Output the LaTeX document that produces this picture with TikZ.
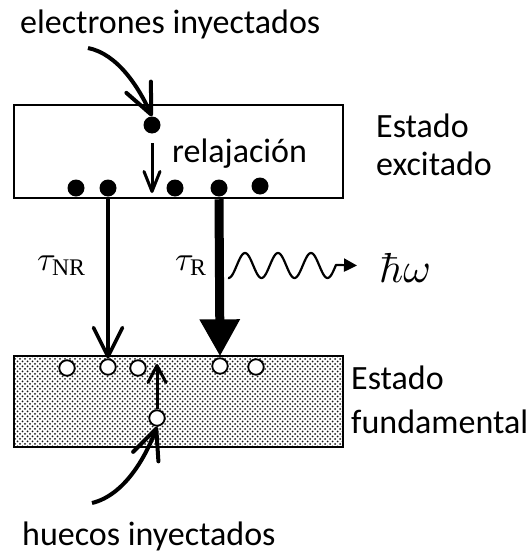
\documentclass[tikz,border=0pt]{standalone}
\usepackage[no-math]{fontspec}
\setmainfont{Carlito}
\newfontfamily\serif{Liberation Serif}
\usetikzlibrary{arrows.meta,patterns}
\pgfdeclarepatternformonly{fdots}{\pgfqpoint{-1pt}{-1pt}}{\pgfqpoint{4pt}{4pt}}{\pgfqpoint{5pt}{5pt}}{%
  \pgfpathcircle{\pgfqpoint{0pt}{0pt}}{1pt}%
  \pgfpathcircle{\pgfqpoint{2.5pt}{2.5pt}}{1pt}%
  \pgfusepath{fill}}
\begin{document}
\begin{tikzpicture}[x=1pt,y=-1pt,
  lab/.style={font=\fontsize{34}{40}\selectfont, inner sep=0pt, anchor=base west},
  mlab/.style={inner sep=0pt, anchor=base west},
  box/.style={draw, line width=2.5pt, inner sep=0pt, minimum width=329pt},
  elec/.style={circle, fill=black, inner sep=0pt, minimum size=17pt},
  hole/.style={circle, draw=black, fill=white, line width=1.8pt, inner sep=0pt, minimum size=15.5pt},
  inj/.style={line width=4pt, -{Straight Barb[length=30pt,width=27pt,round]}},
  nrarrow/.style={line width=3.6pt, -{Straight Barb[length=29pt,width=29pt,round]}},
  relarrow/.style={line width=3pt, -{Straight Barb[length=20pt,width=16pt,round]}},
  holearrow/.style={line width=3pt, -{Straight Barb[length=17pt,width=18pt,round]}},
  rarrow/.style={line width=9pt, -{Triangle[length=37pt,width=38pt]}},
  wave/.style={line width=2.2pt, line join=round, -{Triangle[length=13pt,width=13pt]}}
]
\useasboundingbox (0,0) rectangle (531,554);

% boxes
\node[box, minimum height=93pt] (exc) at (178.5,151.5) {};
\node[box, minimum height=91pt, pattern=fdots, pattern color=black!90] (gnd) at (178.5,401.5) {};

% labels
\node[lab] (tein) at (20,33) {electrones inyectados};
\node[lab] (trel) at (172,162) {relajación};
\node[lab] (tex1) at (376,137) {Estado};
\node[lab] (tex2) at (376,175) {excitado};
\node[lab] (tgd1) at (351,389) {Estado};
\node[lab] (tgd2) at (351,433) {fundamental};
\node[lab] (thin) at (22,545) {huecos inyectados};
\node[mlab] (tnr) at (37,270) {\scalebox{3.4}{$\tau_{\hbox{\fontsize{7}{8}\serif NR}}$}};
\node[mlab] (tr) at (175,270) {\scalebox{3.4}{$\tau_{\hbox{\fontsize{7}{8}\serif R}}$}};
\node[mlab] (hw) at (379,282) {\scalebox{4.2}{$\hbar\omega$}};

% electrons
\node[elec] (e0) at (152,125) {};
\node[elec] (e1) at (76,188) {};
\node[elec] (e2) at (108,188) {};
\node[elec] (e3) at (175,188) {};
\node[elec] (e4) at (219,188) {};
\node[elec] (e5) at (260,186) {};

% holes
\node[hole] (h1) at (67,368) {};
\node[hole] (h2) at (108,367) {};
\node[hole] (h3) at (138,368) {};
\node[hole] (h4) at (220,366) {};
\node[hole] (h5) at (256,367) {};
\node[hole] (h6) at (157,418) {};

% coordinates
\coordinate (ein) at (88,48);
\coordinate (rtop) at (152,143);
\coordinate (rbot) at (152,193);
\coordinate (hup) at (157,364);
\coordinate (hin) at (92,503);
\coordinate (w2) at (357,265.5);

% connectors
\draw[inj] (ein) .. controls (118,54) and (139,88) .. (e0.north);
\draw[relarrow] (rtop) -- (rbot);
\draw[nrarrow] (h2 |- exc.south) -- (h2.north);
\draw[rarrow] (e4 |- exc.south) -- ([yshift=1pt]h4.north);
\draw[wave] plot[domain=228:336,samples=120] (\x,{265.5-12.5*sin((\x-236.75)*10.909)}) -- (w2);
\draw[holearrow] (h6.north) -- (hup);
\draw[inj] (hin) .. controls (125,495) and (146,456) .. (h6.south);
\end{tikzpicture}
\end{document}
